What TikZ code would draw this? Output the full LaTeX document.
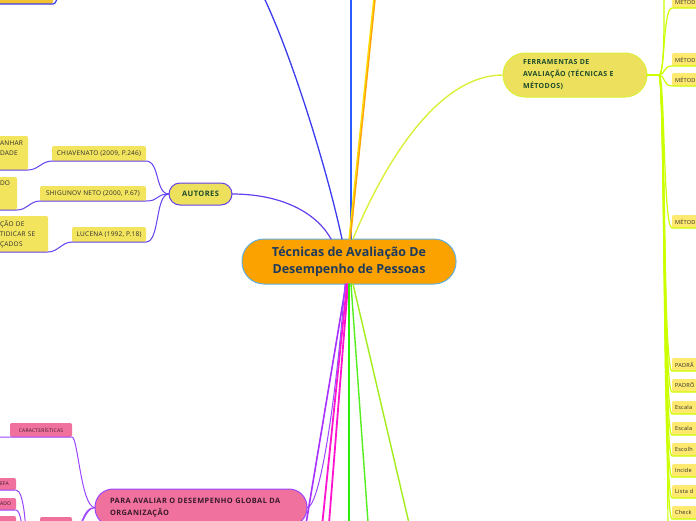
\documentclass[tikz,border=0pt]{standalone}
\usepackage{fontspec}
\setmainfont{Open Sans}
\newfontfamily\capsfont[LetterSpace=6]{Open Sans}
\newfontfamily\leaffont[LetterSpace=4]{Open Sans}
\usetikzlibrary{calc}
\definecolor{hubfill}{HTML}{FBA200}
\definecolor{hubline}{HTML}{62B0E2}
\definecolor{hubtext}{HTML}{1E3A5C}
\definecolor{boxyellow}{HTML}{EDE05C}
\definecolor{leafyellow}{HTML}{F3E45E}
\definecolor{listyellow}{HTML}{FFE96E}
\definecolor{goldbox}{HTML}{F2C233}
\definecolor{pinkbox}{HTML}{F0709E}
\definecolor{darkgreen}{HTML}{1C4A2C}
\definecolor{leaftext}{HTML}{2E2E2E}
\definecolor{pinktext}{HTML}{3A1A2A}
\definecolor{mmlime}{HTML}{CCFF00}
\definecolor{mmlimesoft}{HTML}{DCF03A}
\definecolor{mmindigo}{HTML}{6440EE}
\definecolor{mmviolet}{HTML}{9C45FF}
\definecolor{mmvioletdeep}{HTML}{A530FF}
\definecolor{mmmagenta}{HTML}{FF14CF}
\definecolor{mmgreen}{HTML}{2AEE0A}
\definecolor{mmgreentwo}{HTML}{55EE1E}
\definecolor{mmolive}{HTML}{A2EE1C}
\definecolor{mmblue}{HTML}{3C3CEE}
\definecolor{mmbluetwo}{HTML}{2A5CFF}
\definecolor{mmorange}{HTML}{FFA600}
\definecolor{mmyellow}{HTML}{FFE000}

\begin{document}
\begin{tikzpicture}[x=1pt,y=-1pt,line cap=round,
  every node/.style={inner sep=0pt,outer sep=0pt},
  hub/.style={fill=hubfill,draw=hubline,line width=1pt,rounded corners=22pt,
    minimum width=214,minimum height=45,align=center,text=hubtext,
    font=\fontsize{12.5}{16.5}\selectfont\bfseries},
  topic/.style={line width=1pt,align=left,text=darkgreen,
    font=\capsfont\fontsize{7}{12}\selectfont\bfseries},
  leaf/.style={fill=leafyellow,rounded corners=2pt,minimum height=15,
    text=leaftext,font=\leaffont\fontsize{6.5}{10}\selectfont},
  cutleaf/.style={leaf,align=left,inner xsep=3,anchor=north west},
  listleaf/.style={fill=listyellow,rounded corners=2pt,minimum height=13,
    text width=40,inner xsep=3,align=left,anchor=north west,text=leaftext,
    font=\leaffont\fontsize{5.6}{7}\selectfont},
  pinkleaf/.style={leaf,fill=pinkbox,text=pinktext,minimum height=12,
    font=\leaffont\fontsize{5}{7}\selectfont},
  limeline/.style={draw=mmlime,line width=1.2pt},
  indigoline/.style={draw=mmindigo,line width=1pt},
  violetline/.style={draw=mmviolet,line width=1pt}
]
\fill[white] (0,0) rectangle (696,520);
\useasboundingbox (0,0) rectangle (696,520);

% Helper macro: \mleaf{name}{top y}{text}
\newcommand{\mleaf}[3]{%
  \node[listleaf] (#1) at (672,#2) {#3};
  \draw[limeline] (jn) .. controls +(6,0) and +(-9,0) .. (#1.south west)
    -- (#1.south east);
}

% Central topic
\node[hub] (hub) at (349,261.5) {Técnicas de Avaliação De\\Desempenho de Pessoas};

% Branches leaving the picture
\coordinate (outBlue) at (257,-16);
\coordinate (outBlueTwo) at (351,-20);
\coordinate (outOrange) at (377,-20);
\coordinate (outViolet) at (304,536);
\coordinate (outMagA) at (321,536);
\coordinate (outMagB) at (328,536);
\coordinate (outGreenA) at (349,536);
\coordinate (outGreenB) at (369,536);
\coordinate (outOlive) at (412,536);

\draw[mmblue,line width=1.3pt] ([xshift=-7]hub.north) .. controls (325,160) and (285,35) .. (outBlue);
\draw[mmbluetwo,line width=1.3pt] ([xshift=2]hub.north) -- (outBlueTwo);
\draw[mmyellow,line width=1.3pt] ([xshift=0]hub.north) -- ([xshift=-1.3]outOrange);
\draw[mmorange,line width=1.5pt] ([xshift=1.3]hub.north) -- (outOrange);

\draw[mmvioletdeep,line width=1.6pt] ([xshift=-3]hub.south) -- (outViolet);
\draw[mmmagenta,line width=1.8pt] ([xshift=-2]hub.south) -- (outMagA);
\draw[mmmagenta,line width=1.8pt] ([xshift=-1]hub.south) -- (outMagB);
\draw[mmgreen,line width=1.8pt] (hub.south) -- (outGreenA);
\draw[mmgreentwo,line width=1.4pt] ([xshift=2]hub.south) -- (outGreenB);
\draw[mmolive,line width=1.4pt] ([xshift=4]hub.south) -- (outOlive);

% FERRAMENTAS branch
\node[topic,fill=boxyellow,draw=mmlimesoft,rounded corners=22pt,minimum width=144,
  minimum height=44,text width=104,inner xsep=20] (ferr) at (575,75)
  {FERRAMENTAS DE\\AVALIAÇÃO (TÉCNICAS E\\MÉTODOS)};
\draw[mmlimesoft,line width=1.4pt] ([xshift=4]hub.north) .. controls (375,185) and (430,75) .. (ferr.west);
\coordinate (jn) at ([xshift=12]ferr.east);
\draw[mmlime,line width=2pt] (ferr.east) -- (jn);

\mleaf{mZero}{-5}{MÉTOD}
\mleaf{mOne}{53}{MÉTOD}
\mleaf{mTwo}{73}{MÉTOD}
\mleaf{mThree}{215}{MÉTOD}
\mleaf{padA}{358}{PADRÃ}
\mleaf{padB}{379}{PADRÕ}
\mleaf{escA}{401}{Escala}
\mleaf{escB}{422}{Escala}
\mleaf{escC}{443}{Escolh}
\mleaf{incid}{464}{Incide}
\mleaf{lista}{485}{Lista d}
\mleaf{check}{506}{Check}
\coordinate (outTop) at (664,-20);
\coordinate (outBottom) at (668,540);
\draw[limeline] (jn) .. controls +(6,0) and +(0,30) .. (outTop);
\draw[limeline] (jn) .. controls +(6,0) and +(0,-30) .. (outBottom);

% AUTORES branch
\node[topic,fill=boxyellow,draw=mmindigo,rounded corners=11pt,minimum width=63,
  minimum height=22,font=\capsfont\fontsize{7.5}{9}\selectfont\bfseries] (autores) at (200.5,194) {AUTORES};
\draw[mmindigo,line width=1.2pt] (autores.east) .. controls (285,194) and (318,215) .. ([xshift=-18]hub.north);

\node[leaf,anchor=north west,minimum width=94] (chiav) at (52,146) {CHIAVENATO (2009, P.246)};
\node[leaf,anchor=north west,minimum width=106] (shig) at (40,186) {SHIGUNOV NETO (2000, P.67)};
\node[leaf,anchor=north west,minimum width=74] (lucena) at (72,227) {LUCENA (1992, P.18)};
\foreach \n in {chiav,shig,lucena} {
  \draw[indigoline] (autores.west) .. controls +(-14,0) and +(14,0) .. (\n.south east) -- (\n.south west);
}

\node[cutleaf,text width=25,minimum height=34] (leafA) at (-3,136) {ANHAR\\DADE\\\mbox{}};
\node[cutleaf,text width=14,minimum height=33] (leafB) at (-3,177) {DO\\\mbox{}\\\mbox{}};
\node[cutleaf,text width=45,minimum height=36] (leafC) at (-3,216) {ÇÃO DE\\TIDICAR SE\\ÇADOS};
\draw[indigoline] (chiav.south west) .. controls +(-10,0) and +(10,0) .. (leafA.south east) -- (leafA.south west);
\draw[indigoline] (shig.south west) .. controls +(-10,0) and +(10,0) .. (leafB.south east) -- (leafB.south west);
\draw[indigoline] (lucena.south west) .. controls +(-10,0) and +(10,0) .. (leafC.south east) -- (leafC.south west);

% Top left node
\node[leaf,fill=goldbox,anchor=south west,minimum width=56,minimum height=16] (topgold) at (-3,4) {};
\coordinate (outGold) at (58,-10);
\draw[mmblue,line width=1.2pt] (topgold.south west) -- (topgold.south east) .. controls +(3,0) and +(0,8) .. (outGold);

% PARA AVALIAR branch
\node[topic,fill=pinkbox,draw=mmviolet,rounded corners=18pt,minimum width=212,
  minimum height=37,text width=182,inner xsep=15,text=pinktext,
  font=\capsfont\fontsize{7.4}{11.5}\selectfont\bfseries] (para) at (201,507.5)
  {PARA AVALIAR O DESEMPENHO GLOBAL DA\\ORGANIZAÇÃO};
\draw[violetline] ([xshift=-4]hub.south) .. controls (336,400) and (320,507.5) .. (para.east);

\node[pinkleaf,anchor=north west,minimum width=62,minimum height=14] (caract) at (10,423) {CARACTERÍSTICAS};
\coordinate (outCar) at (-10,437);
\draw[violetline] (para.west) .. controls +(-14,0) and +(6,0) .. (caract.south east)
  -- (caract.south west) -- (outCar);

\node[pinkleaf,anchor=north west,text width=13,inner xsep=3,align=left] (efa) at (-3,478) {EFA};
\node[pinkleaf,anchor=north west,text width=13,inner xsep=3,align=left] (ado) at (-3,498) {ADO};
\node[pinkleaf,anchor=north west,text width=13,inner xsep=3,minimum height=14] (pinkC) at (-3,516) {};
\node[pinkleaf,anchor=north west,minimum width=32,minimum height=14] (pinkD) at (40,517) {};
\coordinate (outEfa) at (26,540);
\coordinate (outAdo) at (23,540);
\coordinate (outPara) at (70,545);
\draw[violetline] (efa.south west) -- (efa.south east) .. controls +(8,0) and +(0,-12) .. (outEfa);
\draw[violetline] (ado.south west) -- (ado.south east) .. controls +(5,0) and +(0,-8) .. (outAdo);
\draw[violetline] (para.west) .. controls +(-14,0) and +(12,0) .. (pinkD.south east);
\draw[violetline] (para.west) .. controls +(-12,0) and +(8,-4) .. (outPara);
\end{tikzpicture}
\end{document}
